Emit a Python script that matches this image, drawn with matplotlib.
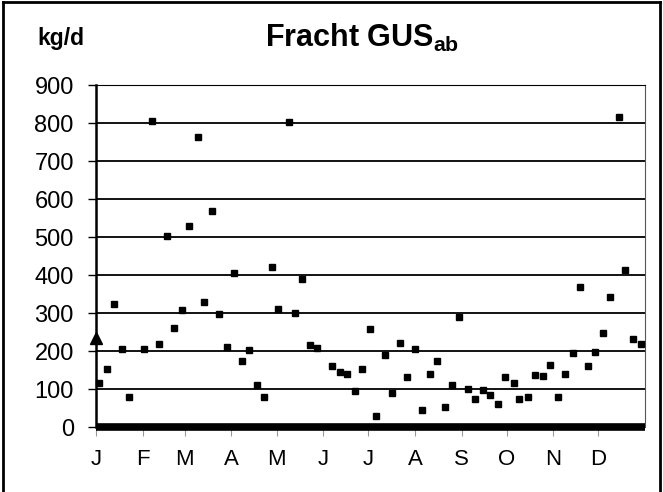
import numpy as np
import matplotlib.pyplot as plt
from matplotlib.lines import Line2D

plt.rcParams['font.family'] = ['Liberation Sans', 'DejaVu Sans']
plt.rcParams['mathtext.fontset'] = 'custom'
plt.rcParams['mathtext.bf'] = 'Liberation Sans:bold'

# Tageswerte: Tag im Jahr und Fracht in kg/d
tag = [2, 7, 12, 17, 22, 32, 37, 42, 47, 52, 57, 62, 68, 72, 77, 82, 87, 92,
       97, 102, 107, 112, 117, 121, 128, 132, 137, 142, 147, 157, 162, 167,
       172, 177, 182, 186, 192, 197, 202, 207, 212, 217, 222, 227, 232, 237,
       241, 247, 252, 257, 262, 267, 272, 278, 281, 287, 292, 297, 302, 307,
       312, 317, 322, 327, 332, 337, 342, 348, 352, 357, 362]
fracht = [116, 153, 324, 206, 78, 206, 806, 218, 503, 261, 307, 530, 764,
          328, 569, 297, 211, 404, 173, 203, 111, 78, 422, 310, 802, 299,
          389, 216, 208, 161, 146, 139, 96, 153, 259, 30, 189, 89, 220, 131,
          205, 45, 139, 174, 52, 110, 289, 100, 74, 97, 85, 61, 132, 117, 73,
          80, 138, 133, 164, 78, 139, 194, 368, 161, 198, 247, 341, 815, 413,
          232, 218]

# Mittelwert (Dreieck am Jahresanfang)
mittel_tag = [0]
mittel_wert = [235]

monate = ['J', 'F', 'M', 'A', 'M', 'J', 'J', 'A', 'S', 'O', 'N', 'D']
monat_start = [0, 31, 59, 90, 120, 151, 181, 212, 243, 273, 304, 334]

fig = plt.figure(figsize=(6.63, 4.92), dpi=100)
ax = fig.add_axes([0.1448, 0.1321, 0.8281, 0.6951])

ax.plot(tag, fracht, 's', color='black', ms=5, clip_on=False, zorder=3)
ax.plot(mittel_tag, mittel_wert, '^', color='black', ms=9, clip_on=False,
        zorder=4)

ax.set_xlim(0, 365)
ax.set_ylim(0, 900)
ax.set_yticks(np.arange(0, 901, 100))
ax.set_xticks(monat_start)
ax.set_xticklabels(monate)
ax.yaxis.grid(True, color='black', lw=1.3)
ax.set_axisbelow(True)

ax.tick_params(axis='y', direction='out', length=6, width=1, labelsize=17,
               pad=10)
ax.tick_params(axis='x', direction='out', length=6.5, width=0.8,
               color='#999999', labelsize=16, pad=9)

for s in ['top', 'right']:
    ax.spines[s].set_linewidth(0.8)
ax.spines['right'].set_color('#555555')
ax.spines['left'].set_linewidth(1.8)
ax.spines['bottom'].set_linewidth(5.5)
ax.spines['bottom'].set_capstyle('butt')

fig.text(0.546, 0.9045, r'Fracht GUS$_{\mathbf{ab}}$', ha='center',
         va='baseline', fontsize=22, fontweight='bold')
fig.text(0.056, 0.9085, 'kg/d', ha='left', va='baseline', fontsize=16.5,
         fontweight='bold')

# Rahmen um die Grafik
for xs, ys in [([0.004, 0.996], [0.995, 0.995]),
               ([0.004, 0.004], [0.0, 0.995]),
               ([0.996, 0.996], [0.0, 0.995])]:
    fig.add_artist(Line2D(xs, ys, color='black', lw=2,
                          transform=fig.transFigure))

fig.savefig('out.png', dpi=100)
